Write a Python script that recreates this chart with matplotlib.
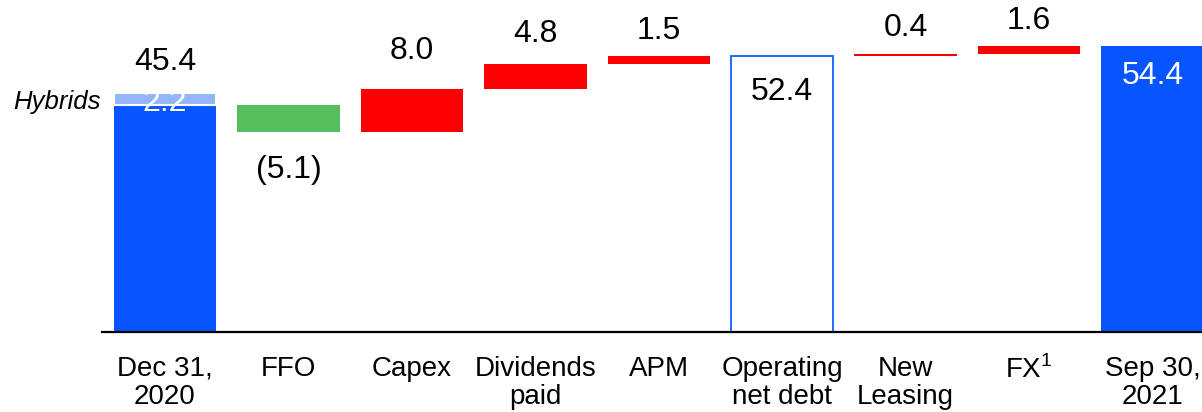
import matplotlib
matplotlib.use("Agg")
from matplotlib import pyplot as plt

plt.rcParams["font.family"] = ["Liberation Sans", "DejaVu Sans"]
plt.rcParams["mathtext.fontset"] = "custom"
plt.rcParams["mathtext.rm"] = "Liberation Sans"

# Net debt bridge, EUR bn
categories = ["Dec 31,\n2020", "FFO", "Capex", "Dividends\npaid", "APM",
              "Operating\nnet debt", "New\nLeasing", "FX$^{1}$", "Sep 30,\n2021"]
start_debt = 43.2
hybrids = 2.2
steps = [-5.1, 8.0, 4.8, 1.5]          # FFO, Capex, Dividends, APM
operating_net_debt = 52.4
later_steps = [0.4, 1.6]               # New leasing, FX
end_debt = 54.4

step_labels = ["(5.1)", "8.0", "4.8", "1.5"]
later_labels = ["0.4", "1.6"]

# how far each step label sits from the end of its bar
step_gaps = [7.4, 7.3, 5.8, 4.8]
later_gaps = [4.9, 4.7]

dark_blue = "#0855FF"
light_blue = "#93B6FA"
green = "#56BE5C"
red = "#FF0000"
fs = 23

fig = plt.figure(dpi=100, figsize=(12.02, 4.12))
ax = fig.add_axes([102 / 1202, 80 / 412, 1100 / 1202, 332 / 412])
width = 0.83

# Opening position with hybrids on top
ax.bar(0, start_debt, width, color=dark_blue)
ax.bar(0, hybrids, width, bottom=start_debt, color=light_blue,
       edgecolor="white", linewidth=1.5)
ax.text(0, start_debt + hybrids + 5.9, f"{start_debt + hybrids:.1f}",
        ha="center", va="center", fontsize=fs)
ax.text(0, start_debt + 0.3, f"{hybrids:.1f}", ha="center", va="center",
        fontsize=fs, color="white")
ax.text(-0.107 - width / 2, start_debt + 0.5, "Hybrids", ha="right",
        va="center", fontsize=18.5, style="italic")

# Movements up to operating net debt
level = start_debt
for i, (s, lab, gap) in enumerate(zip(steps, step_labels, step_gaps), start=1):
    color = green if s < 0 else red
    ax.bar(i, s, width, bottom=level, color=color)
    if s < 0:
        ax.text(i, level + s - gap, lab, ha="center", va="center", fontsize=fs)
    else:
        ax.text(i, level + s + gap, lab, ha="center", va="center", fontsize=fs)
    level += s

# Operating net debt as outlined box
ax.bar(5, operating_net_debt, width, facecolor="white", edgecolor="#1F6BFF",
       linewidth=1.4)
ax.text(5, operating_net_debt - 6.8, f"{operating_net_debt:.1f}",
        ha="center", va="center", fontsize=fs)

level = operating_net_debt
for i, (s, lab, gap) in enumerate(zip(later_steps, later_labels, later_gaps), start=6):
    ax.bar(i, s, width, bottom=level, color=red)
    ax.text(i, level + s + gap, lab, ha="center", va="center", fontsize=fs)
    level += s

# Closing position
ax.bar(8, end_debt, width, color=dark_blue)
ax.text(8, end_debt - 5.7, f"{end_debt:.1f}", ha="center", va="center",
        fontsize=fs, color="white")

ax.set_xlim(-0.51, 8.40)
ax.set_ylim(0, 63.1)
ax.set_xticks(range(len(categories)))
ax.set_xticklabels(categories, fontsize=20, linespacing=1.13)
ax.tick_params(axis="x", length=0, pad=17)
ax.set_yticks([])
for side in ["top", "right", "left"]:
    ax.spines[side].set_visible(False)
ax.spines["bottom"].set_linewidth(1.6)

fig.savefig("out.png", dpi=100)
